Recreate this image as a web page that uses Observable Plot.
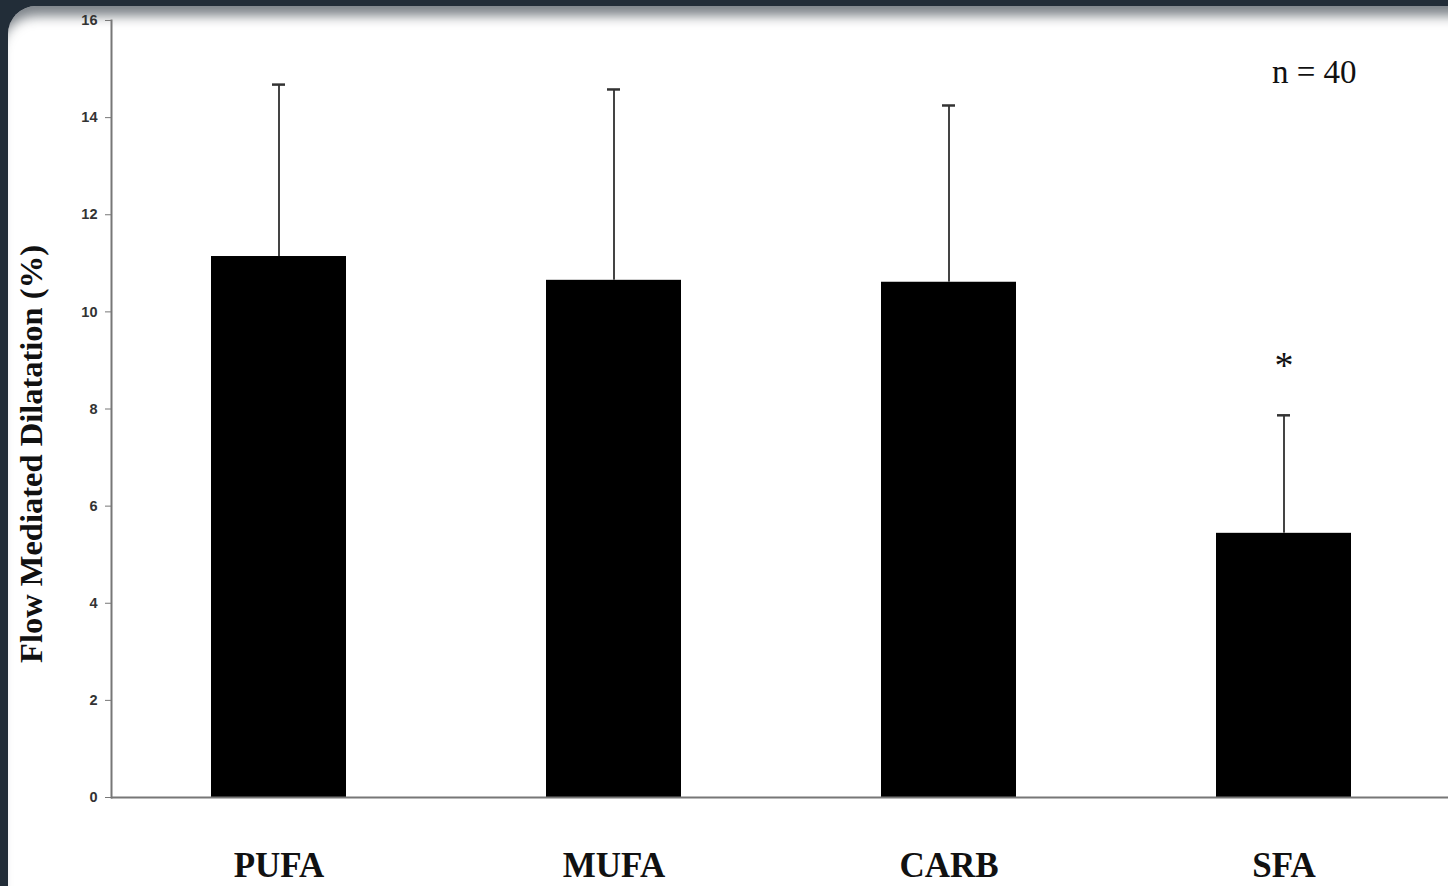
<!DOCTYPE html>
<html>
<head>
<meta charset="utf-8">
<script src="https://cdn.jsdelivr.net/npm/d3@7"></script>
<script src="https://cdn.jsdelivr.net/npm/@observablehq/plot@0.6"></script>
<style>
  html, body { margin: 0; padding: 0; width: 1448px; height: 886px; overflow: hidden; background: #222d38; }
  #card { position: absolute; left: 8px; top: 6px; width: 1480px; height: 920px; background: #fff; border-radius: 28px;
          box-shadow: inset 0 18px 12px -8px rgba(40,50,60,0.6); }
  #chart { position: absolute; left: 0; top: 0; }
  #chart svg { background: transparent !important; }
</style>
</head>
<body>
<div id="card"></div>
<div id="chart"></div>
<script>
const categories = ["PUFA", "MUFA", "CARB", "SFA"];
const means = [11.14, 10.65, 10.61, 5.44];
const upperErrors = [14.68, 14.58, 14.25, 7.87];
const yTicks = [0, 2, 4, 6, 8, 10, 12, 14, 16];
const significant = ["SFA"];
const significanceY = [8.88];
const nLabel = "n = 40";
const yTitle = "Flow Mediated Dilatation (%)";

const data = categories.map((c, i) => ({cat: c, mean: means[i], upper: upperErrors[i]}));
const stars = significant.map((c, i) => ({cat: c, y: significanceY[i]}));

const serif = "'Liberation Serif', 'Times New Roman', serif";
const sans = "'Liberation Sans', Arial, sans-serif";

const chart = Plot.plot({
  width: 1448,
  height: 886,
  marginTop: 20,
  marginBottom: 89,
  marginLeft: 111,
  marginRight: 0,
  style: {background: "transparent", overflow: "visible"},
  x: {domain: categories, range: [111, 1451], paddingInner: 0.597, paddingOuter: 0.2985, label: null},
  y: {domain: [0, 16], label: null},
  marks: [
    Plot.barY(data, {x: "cat", y: "mean", fill: "#000"}),
    Plot.ruleX(data, {x: "cat", y1: "mean", y2: "upper", stroke: "#444", strokeWidth: 2}),
    Plot.tickY(data, {x: "cat", y: "upper", stroke: "#333", strokeWidth: 2.5, insetLeft: 61, insetRight: 61}),
    Plot.frame({anchor: "left", stroke: "#777", strokeWidth: 2}),
    Plot.ruleY([0], {stroke: "#777", strokeWidth: 2}),
    Plot.axisY({ticks: yTicks, tickFormat: d => d, tickSize: 6, tickPadding: 8, stroke: "#777",
      fontSize: 14.5, fontWeight: "bold", fill: "#333", fontFamily: sans, label: null}),
    Plot.axisX({tickSize: 0, tickPadding: 55, fontSize: 35, fontWeight: "bold", fill: "#111",
      fontFamily: serif, label: null, style: {letterSpacing: "1px"}}),
    Plot.text(stars, {x: "cat", y: "y", text: () => "*", fontSize: 38, fontFamily: serif, fill: "#111", lineAnchor: "middle"}),
    Plot.text([nLabel], {frameAnchor: "top-right", text: d => d, textAnchor: "end", lineAnchor: "middle",
      dx: -92, dy: 52, fontSize: 33, fontFamily: serif, fill: "#111"}),
    Plot.text([yTitle], {frameAnchor: "left", text: d => d, rotate: -90, textAnchor: "middle", lineAnchor: "middle",
      dx: -80, dy: 45, fontSize: 32.5, fontWeight: "bold", fontFamily: serif, fill: "#111"})
  ]
});
document.getElementById("chart").appendChild(chart);
</script>
</body>
</html>
